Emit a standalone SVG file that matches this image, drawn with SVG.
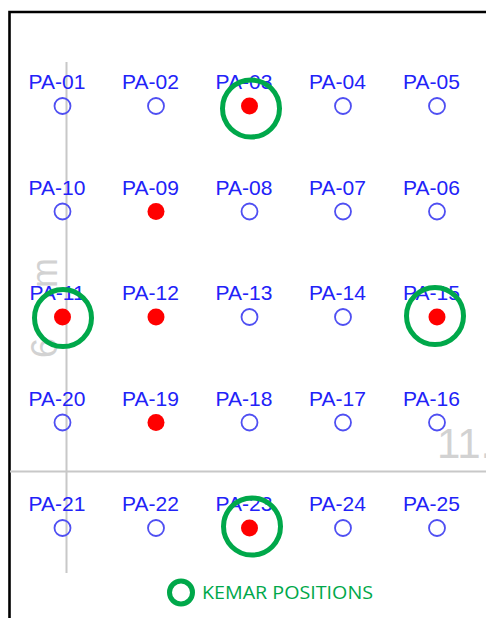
<svg xmlns="http://www.w3.org/2000/svg" width="486" height="618" viewBox="0 0 486 618">
<style>
.lbl{font-family:"Liberation Sans",Arial,sans-serif;font-size:21px;fill:#2222f8;text-anchor:middle}
.pt{fill:none;stroke:#4f4ff2;stroke-width:1.8}
.on{fill:#ff0000;stroke:none}
.kemar{fill:none;stroke:#00a84a;stroke-width:5}
.guide{stroke:#c8c8c8;stroke-width:2;fill:none}
.dim{font-family:"Liberation Sans",Arial,sans-serif;fill:#d2d2d2}
</style>
<rect width="486" height="618" fill="#ffffff"/>
<g id="frame">
<path d="M9.5 618 V12 H486" fill="none" stroke="#000" stroke-width="2.6"/>
</g>
<g id="guides">
<line class="guide" x1="66.5" y1="62" x2="66.5" y2="573"/>
<line class="guide" x1="10" y1="471.5" x2="486" y2="471.5"/>
<text class="dim" font-size="36" transform="translate(57,358) rotate(-90)">6<tspan dx="50">m</tspan></text>
<text class="dim" font-size="42" x="437" y="458">11.</text>
</g>
<g id="PA-01"><text class="lbl" x="57" y="89">PA-01</text><circle class="pt" cx="62.5" cy="106" r="8"/></g>
<g id="PA-02"><text class="lbl" x="150.5" y="89">PA-02</text><circle class="pt" cx="156" cy="106" r="8"/></g>
<g id="PA-03"><text class="lbl" x="244" y="89">PA-03</text><circle class="on" cx="249.5" cy="106" r="8.5"/></g>
<g id="PA-04"><text class="lbl" x="337.5" y="89">PA-04</text><circle class="pt" cx="343" cy="106" r="8"/></g>
<g id="PA-05"><text class="lbl" x="431.5" y="89">PA-05</text><circle class="pt" cx="437" cy="106" r="8"/></g>

<g id="PA-10"><text class="lbl" x="57" y="194.5">PA-10</text><circle class="pt" cx="62.5" cy="211.5" r="8"/></g>
<g id="PA-09"><text class="lbl" x="150.5" y="194.5">PA-09</text><circle class="on" cx="156" cy="211.5" r="8.5"/></g>
<g id="PA-08"><text class="lbl" x="244" y="194.5">PA-08</text><circle class="pt" cx="249.5" cy="211.5" r="8"/></g>
<g id="PA-07"><text class="lbl" x="337.5" y="194.5">PA-07</text><circle class="pt" cx="343" cy="211.5" r="8"/></g>
<g id="PA-06"><text class="lbl" x="431.5" y="194.5">PA-06</text><circle class="pt" cx="437" cy="211.5" r="8"/></g>

<g id="PA-11"><text class="lbl" x="57" y="300">PA-11</text><circle class="on" cx="62.5" cy="317" r="8.5"/></g>
<g id="PA-12"><text class="lbl" x="150.5" y="300">PA-12</text><circle class="on" cx="156" cy="317" r="8.5"/></g>
<g id="PA-13"><text class="lbl" x="244" y="300">PA-13</text><circle class="pt" cx="249.5" cy="317" r="8"/></g>
<g id="PA-14"><text class="lbl" x="337.5" y="300">PA-14</text><circle class="pt" cx="343" cy="317" r="8"/></g>
<g id="PA-15"><text class="lbl" x="431.5" y="300">PA-15</text><circle class="on" cx="437" cy="317" r="8.5"/></g>

<g id="PA-20"><text class="lbl" x="57" y="405.5">PA-20</text><circle class="pt" cx="62.5" cy="422.5" r="8"/></g>
<g id="PA-19"><text class="lbl" x="150.5" y="405.5">PA-19</text><circle class="on" cx="156" cy="422.5" r="8.5"/></g>
<g id="PA-18"><text class="lbl" x="244" y="405.5">PA-18</text><circle class="pt" cx="249.5" cy="422.5" r="8"/></g>
<g id="PA-17"><text class="lbl" x="337.5" y="405.5">PA-17</text><circle class="pt" cx="343" cy="422.5" r="8"/></g>
<g id="PA-16"><text class="lbl" x="431.5" y="405.5">PA-16</text><circle class="pt" cx="437" cy="422.5" r="8"/></g>

<g id="PA-21"><text class="lbl" x="57" y="511">PA-21</text><circle class="pt" cx="62.5" cy="528" r="8"/></g>
<g id="PA-22"><text class="lbl" x="150.5" y="511">PA-22</text><circle class="pt" cx="156" cy="528" r="8"/></g>
<g id="PA-23"><text class="lbl" x="244" y="511">PA-23</text><circle class="on" cx="249.5" cy="528" r="8.5"/></g>
<g id="PA-24"><text class="lbl" x="337.5" y="511">PA-24</text><circle class="pt" cx="343" cy="528" r="8"/></g>
<g id="PA-25"><text class="lbl" x="431.5" y="511">PA-25</text><circle class="pt" cx="437" cy="528" r="8"/></g>

<g id="kemar-rings">
<circle class="kemar" cx="251" cy="108.5" r="28.5"/>
<circle class="kemar" cx="63" cy="318" r="28.5"/>
<circle class="kemar" cx="435" cy="316" r="28.5"/>
<circle class="kemar" cx="252" cy="526.5" r="28.5"/>
</g>
<g id="legend">
<circle class="kemar" cx="181" cy="592.5" r="11.5"/>
<text x="202" y="598.5" font-family="'Open Sans','Noto Sans',sans-serif" font-size="17.5" fill="#00a84a" textLength="171" lengthAdjust="spacingAndGlyphs">KEMAR POSITIONS</text>
</g>
</svg>
